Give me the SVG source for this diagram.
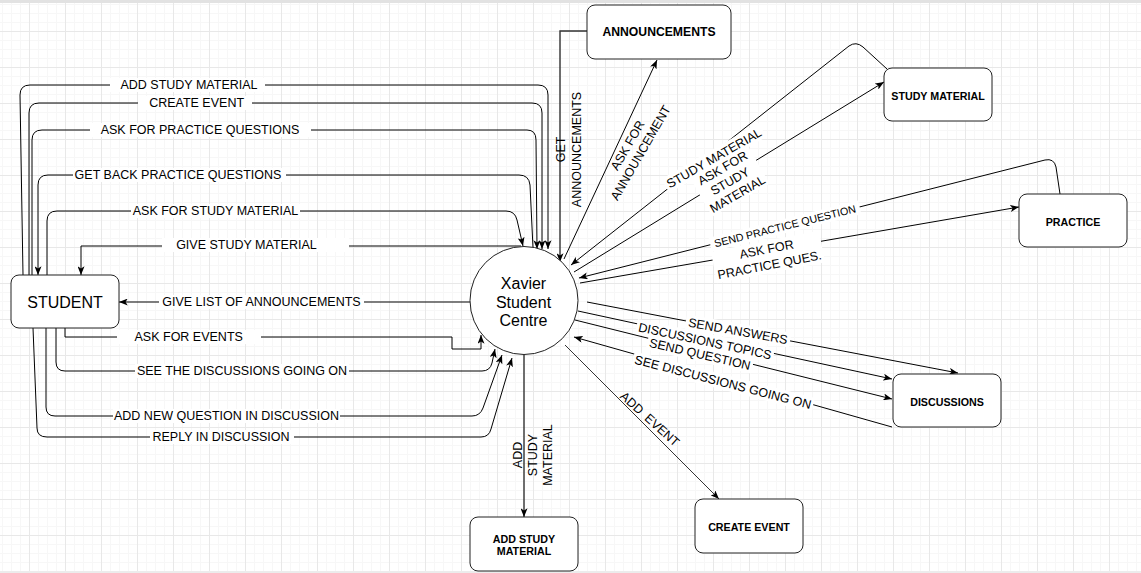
<svg xmlns="http://www.w3.org/2000/svg" width="1141" height="573" viewBox="0 0 1141 573">
<defs>
<pattern id="grid" patternUnits="userSpaceOnUse" x="-7" y="-5" width="36" height="36">
<path d="M9.5,0V36M18.5,0V36M27.5,0V36M0,9.5H36M0,18.5H36M0,27.5H36" stroke="#f7f7f7" stroke-width="1" fill="none"/>
<path d="M0.5,0V36M0,0.5H36" stroke="#e8e8e8" stroke-width="1" fill="none"/>
</pattern>
<marker id="arr" viewBox="0 0 10 8" refX="10" refY="4" markerWidth="9" markerHeight="7" orient="auto" markerUnits="userSpaceOnUse">
<path d="M0,0 L10,4 L0,8 L2.5,4 z" fill="#000"/>
</marker>
<style>
.ln{fill:none;stroke:#000;stroke-width:1;marker-end:url(#arr)}
.thk{stroke:#333;stroke-width:1.4}
.box{fill:#fff;stroke:#222;stroke-width:1}
.bg{fill:#fff}
text{font-family:"Liberation Sans",Arial,sans-serif;fill:#000;text-anchor:middle}
.lb{font-size:12.5px}
.sm{font-size:10.7px}
.nb{font-size:10.7px;font-weight:bold}
.big{font-size:16px}
</style>
</defs>
<rect width="1141" height="573" fill="#fff"/>
<rect width="1141" height="573" fill="url(#grid)"/>
<rect x="0" y="0" width="1141" height="3" fill="#e2e2e2"/>
<rect x="0" y="571" width="1141" height="2" fill="#ececec"/>

<g id="connectors">
<path class="ln" d="M23,275 L20,95 Q20,85 30,85 L538,85 Q548,85 548,95 L548,249"/>
<path class="ln" d="M29,275 L29,113 Q29,103 39,103 L532,103 Q542,103 542,113 L542,249"/>
<path class="ln" d="M32,275 L32,140 Q32,130 42,130 L527,130 Q536,130 536,140 L537,249"/>
<path class="ln" d="M533,248 L530,185 Q529,175 519,175 L48,175 Q38,175 38,185 L38,275"/>
<path class="ln" d="M47,275 L47,221 Q47,211 57,211 L506,211 Q515,211 517,220 L523,246"/>
<path class="ln" d="M521,246 L81,246 L81,275"/>
<path class="ln" d="M470,302 L119,302"/>
<path class="ln" d="M65,328 L65,337 L452,337 L452,349 L481,349 L481,335"/>
<path class="ln" d="M56,328 L56,362 Q56,371 65,371 L482,371 Q490,371 492,363 L495,349"/>
<path class="ln" d="M46,328 L46,407 Q46,416 55,416 L472,416 Q480,416 483,408 L502,355"/>
<path class="ln" d="M33,328 L37,428 Q37,437 47,437 L481,437 Q489,437 491,429 L512,358"/>
<path class="ln thk" d="M587,31 L560,31 L560,262"/>
<path class="ln" d="M564,259 L657,60"/>
<path class="ln" d="M887,69 L863,47 Q856,41 849,46 L571,265"/>
<path class="ln" d="M574,272 L884,82"/>
<path class="ln" d="M1060,194 L1056,167 Q1054,158 1045,160 L579,278"/>
<path class="ln" d="M580,283 L1019,207"/>
<path class="ln" d="M587,302 L958,373"/>
<path class="ln" d="M578,311 L892,379"/>
<path class="ln" d="M575,320 L892,399"/>
<path class="ln" d="M892,427 L574,337"/>
<path class="ln" style="stroke-width:0.8" d="M565,345 L719,499"/>
<path class="ln thk" d="M524,355 L524,517"/>
</g>

<g id="connector-labels">
<rect class="bg" x="110" y="78" width="155" height="14"/><text class="lb" x="189" y="89.4">ADD STUDY MATERIAL</text>
<rect class="bg" x="138" y="96" width="114" height="14"/><text class="lb" x="196.6" y="107.4">CREATE EVENT</text>
<rect class="bg" x="90" y="123" width="221" height="14"/><text class="lb" x="200" y="134.4">ASK FOR PRACTICE QUESTIONS</text>
<rect class="bg" x="73" y="168" width="213" height="14"/><text class="lb" x="178" y="179.4">GET BACK PRACTICE QUESTIONS</text>
<rect class="bg" x="131" y="204" width="169" height="14"/><text class="lb" x="215.5" y="215.4">ASK FOR STUDY MATERIAL</text>
<rect class="bg" x="162" y="238" width="187" height="14"/><text class="lb" x="246.4" y="249.4">GIVE STUDY MATERIAL</text>
<rect class="bg" x="159" y="295" width="205" height="14"/><text class="lb" x="261.5" y="306.4">GIVE LIST OF ANNOUNCEMENTS</text>
<rect class="bg" x="117" y="330" width="144" height="14"/><text class="lb" x="188.7" y="341.4">ASK FOR EVENTS</text>
<rect class="bg" x="135" y="364" width="214" height="14"/><text class="lb" x="242" y="375.4">SEE THE DISCUSSIONS GOING ON</text>
<rect class="bg" x="113" y="409" width="227" height="14"/><text class="lb" x="226.5" y="420.4">ADD NEW QUESTION IN DISCUSSION</text>
<rect class="bg" x="150" y="430" width="144" height="14"/><text class="lb" x="221" y="441.4">REPLY IN DISCUSSION</text>

<g transform="translate(569,149.5) rotate(-90)"><text class="lb" y="-3.6">GET</text><text class="lb" y="12.4">ANNOUNCEMENTS</text></g>
<g transform="translate(634,149) rotate(-60)"><text class="lb" y="-3.1">ASK FOR</text><text class="lb" y="11.9">ANNOUNCEMENT</text></g>
<g transform="translate(714,158) rotate(-30)"><rect class="bg" x="-56" y="-8" width="112" height="16"/><text class="lb" y="4.4">STUDY MATERIAL</text></g>
<g transform="translate(730,181) rotate(-30)"><rect class="bg" x="-33" y="-22" width="66" height="44"/><text class="lb" y="-10.6">ASK FOR</text><text class="lb" y="4.4">STUDY</text><text class="lb" y="19.4">MATERIAL</text></g>
<g transform="translate(785,226) rotate(-14)"><rect class="bg" x="-77" y="-7" width="154" height="14"/><text class="sm" y="3.8">SEND PRACTICE QUESTION</text></g>
<g transform="translate(768,257) rotate(-11)"><rect class="bg" x="-55" y="-16" width="110" height="32"/><text class="lb" y="-3.6">ASK FOR</text><text class="lb" y="12.4">PRACTICE QUES.</text></g>
<g transform="translate(738,331) rotate(10)"><rect class="bg" x="-53" y="-7.5" width="106" height="15"/><text class="lb" y="4.4">SEND ANSWERS</text></g>
<g transform="translate(705,341) rotate(12)"><rect class="bg" x="-70" y="-7.5" width="140" height="15"/><text class="lb" y="4.4">DISCUSSIONS TOPICS</text></g>
<g transform="translate(700,354) rotate(13)"><rect class="bg" x="-54" y="-7.5" width="108" height="15"/><text class="lb" y="4.4">SEND QUESTION</text></g>
<g transform="translate(723,382) rotate(14.5)"><rect class="bg" x="-93" y="-7.5" width="186" height="15"/><text class="lb" y="4.4">SEE DISCUSSIONS GOING ON</text></g>
<g transform="translate(650,419) rotate(42)"><text class="lb" y="4.4" word-spacing="3">ADD EVENT</text></g>
<g transform="translate(533,455) rotate(-90)"><text class="lb" y="-10.6">ADD</text><text class="lb" y="4.4">STUDY</text><text class="lb" y="19.4">MATERIAL</text></g>
</g>

<g id="student"><rect class="box" x="11" y="275" width="108" height="53" rx="8"/><text class="big" x="65" y="307.7">STUDENT</text></g>
<g id="centre"><circle class="box" cx="524" cy="300.5" r="54"/><text class="big" x="523.5" y="289">Xavier</text><text class="big" x="523.5" y="307.7">Student</text><text class="big" x="523.5" y="326.4">Centre</text></g>
<g id="announcements"><rect class="box" x="587" y="5" width="144" height="54" rx="8"/><text style="font-size:12.2px;font-weight:bold" x="659" y="36.3">ANNOUNCEMENTS</text></g>
<g id="study-material"><rect class="box" x="884" y="68" width="108" height="53" rx="8"/><text class="nb" x="938" y="100">STUDY MATERIAL</text></g>
<g id="practice"><rect class="box" x="1019" y="194" width="108" height="53" rx="8"/><text class="nb" x="1073" y="226">PRACTICE</text></g>
<g id="discussions"><rect class="box" x="893" y="374" width="108" height="53" rx="8"/><text class="nb" x="947" y="406">DISCUSSIONS</text></g>
<g id="create-event"><rect class="box" x="695" y="499" width="108" height="54" rx="8"/><text class="nb" x="749" y="531">CREATE EVENT</text></g>
<g id="add-study-material"><rect class="box" x="470" y="517" width="108" height="54" rx="8"/><text class="nb" x="524" y="543.1">ADD STUDY</text><text class="nb" x="524" y="554.5">MATERIAL</text></g>
</svg>
